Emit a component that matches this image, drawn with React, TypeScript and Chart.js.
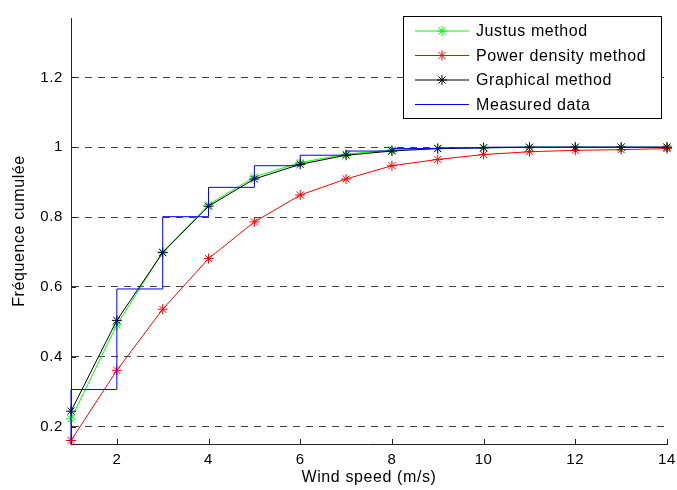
import React, { useEffect, useRef } from "react";
import { Chart, registerables } from "chart.js";

Chart.register(...registerables);

const windSpeed = [1, 2, 3, 4, 5, 6, 7, 8, 9, 10, 11, 12, 13, 14];
const justus = [0.222, 0.491, 0.7, 0.835, 0.915, 0.956, 0.98, 0.992, 0.997, 0.999, 1, 1, 1, 1];
const powerDensity = [0.16, 0.361, 0.536, 0.681, 0.786, 0.863, 0.909, 0.947, 0.965, 0.979, 0.987, 0.991, 0.993, 0.996];
const graphical = [0.244, 0.504, 0.698, 0.831, 0.909, 0.951, 0.977, 0.989, 0.996, 0.998, 1, 1, 1, 1];
const measuredX = [1, 1, 2, 3, 4, 5, 6, 7, 8, 9, 10, 11, 12, 13, 14];
const measuredY = [0, 0.306, 0.594, 0.801, 0.885, 0.947, 0.977, 0.989, 0.996, 0.998, 1, 1, 1, 1, 1];
const yTicks = [0.2, 0.4, 0.6, 0.8, 1, 1.2];
const xTicks = [2, 4, 6, 8, 10, 12, 14];
const legendLabels = ["Justus method", "Power density method", "Graphical method", "Measured data"];
const legendColors = ["#00ff00", "#ff0000", "#000000", "#0000ff"];
const legendMarkers = [true, true, true, false];

const FONT = "'Liberation Sans', Arial, Helvetica, sans-serif";

function drawStar(ctx: CanvasRenderingContext2D, x: number, y: number, r: number) {
  ctx.beginPath();
  ctx.moveTo(x - r, y);
  ctx.lineTo(x + r, y);
  ctx.moveTo(x, y - r);
  ctx.lineTo(x, y + r);
  const d = r * Math.SQRT1_2;
  ctx.moveTo(x - d, y - d);
  ctx.lineTo(x + d, y + d);
  ctx.moveTo(x - d, y + d);
  ctx.lineTo(x + d, y - d);
  ctx.stroke();
}

const decorPlugin = {
  id: "decor",
  beforeUpdate(chart: any) {
    chart.ctx.letterSpacing = "0.6px";
  },
  beforeDraw(chart: any) {
    chart.ctx.letterSpacing = "0.6px";
  },
  afterDraw(chart: any) {
    const ctx: CanvasRenderingContext2D = chart.ctx;
    const xs = chart.scales.x;
    const ys = chart.scales.y;
    const area = chart.chartArea;
    ctx.save();
    ctx.strokeStyle = "#222";
    ctx.lineWidth = 1;
    ctx.beginPath();
    xTicks.forEach((v) => {
      const px = Math.round(xs.getPixelForValue(v)) + 0.5;
      ctx.moveTo(px, Math.round(area.bottom));
      ctx.lineTo(px, Math.round(area.bottom) - 5);
    });
    yTicks.forEach((v) => {
      const py = Math.round(ys.getPixelForValue(v)) + 0.5;
      ctx.moveTo(Math.round(area.left), py);
      ctx.lineTo(Math.round(area.left) + 5, py);
    });
    ctx.stroke();

    // legend box
    const bx = 403.5, by = 16.5, bw = 258, bh = 102;
    ctx.fillStyle = "#ffffff";
    ctx.fillRect(bx, by, bw, bh);
    ctx.strokeStyle = "#000";
    ctx.strokeRect(bx, by, bw, bh);
    const rows = [31, 55.5, 80, 104.5];
    ctx.font = "16px " + FONT;
    (ctx as any).letterSpacing = "0.6px";
    ctx.textBaseline = "middle";
    ctx.textAlign = "left";
    legendLabels.forEach((label, i) => {
      const y = rows[i];
      ctx.strokeStyle = legendColors[i];
      ctx.lineWidth = 1;
      ctx.beginPath();
      ctx.moveTo(415, y);
      ctx.lineTo(469, y);
      ctx.stroke();
      if (legendMarkers[i]) drawStar(ctx, 442, y, 5);
      ctx.fillStyle = "#000";
      ctx.fillText(label, 476, y + 1);
    });
    ctx.restore();
  },
};

export default function App() {
  const ref = useRef<HTMLCanvasElement>(null);
  useEffect(() => {
    if (!ref.current) return;
    const methodClip = { left: 8, right: 8, top: 8, bottom: 8 };
    const chart = new Chart(ref.current, {
      type: "line",
      data: {
        datasets: [
          {
            label: legendLabels[3],
            data: measuredX.map((x, i) => ({ x, y: measuredY[i] })),
            borderColor: legendColors[3],
            borderWidth: 1,
            pointRadius: 0,
            stepped: "before",
            fill: false,
            clip: { left: 2, right: 2, top: 0, bottom: 0 },
          },
          {
            label: legendLabels[2],
            data: windSpeed.map((x, i) => ({ x, y: graphical[i] })),
            borderColor: legendColors[2],
            pointBorderColor: legendColors[2],
            borderWidth: 1,
            pointStyle: "star",
            pointRadius: 5,
            pointBorderWidth: 1,
            fill: false,
            clip: methodClip,
          },
          {
            label: legendLabels[1],
            data: windSpeed.map((x, i) => ({ x, y: powerDensity[i] })),
            borderColor: legendColors[1],
            pointBorderColor: legendColors[1],
            borderWidth: 1,
            pointStyle: "star",
            pointRadius: 5,
            pointBorderWidth: 1,
            fill: false,
            clip: methodClip,
          },
          {
            label: legendLabels[0],
            data: windSpeed.map((x, i) => ({ x, y: justus[i] })),
            borderColor: legendColors[0],
            pointBorderColor: legendColors[0],
            borderWidth: 1,
            pointStyle: "star",
            pointRadius: 5,
            pointBorderWidth: 1,
            fill: false,
            clip: methodClip,
          },
        ],
      },
      options: {
        animation: false,
        responsive: false,
        maintainAspectRatio: false,
        layout: { padding: { left: 0, right: 10, top: 18, bottom: 0 } },
        plugins: { legend: { display: false }, tooltip: { enabled: false } },
        elements: { line: { tension: 0 } },
        scales: {
          x: {
            type: "linear",
            min: 1,
            max: 14,
            afterBuildTicks: (scale: any) => {
              scale.ticks = xTicks.map((v) => ({ value: v }));
            },
            afterFit: (scale: any) => {
              scale.height = 46;
              scale.paddingLeft = 0;
              scale.paddingRight = 0;
            },
            grid: { display: false, drawTicks: false },
            border: { display: true, color: "#222", width: 1 },
            ticks: {
              color: "#000",
              font: { family: FONT, size: 15 },
              padding: 7,
              maxRotation: 0,
              autoSkip: false,
            },
            title: {
              display: true,
              text: "Wind speed (m/s)",
              color: "#000",
              font: { family: FONT, size: 16 },
              padding: { top: 0, bottom: 3 },
            },
          },
          y: {
            type: "linear",
            min: 0.15,
            max: 1.37,
            afterBuildTicks: (scale: any) => {
              scale.ticks = yTicks.map((v) => ({ value: v }));
            },
            afterFit: (scale: any) => {
              scale.width = 71;
              scale.paddingTop = 0;
              scale.paddingBottom = 0;
            },
            grid: { display: true, drawTicks: false, color: "#444", lineWidth: 1 },
            border: { display: true, color: "#222", width: 1, dash: [7, 6] },
            ticks: {
              color: "#000",
              font: { family: FONT, size: 15 },
              padding: 8,
              callback: (v: any) => String(Math.round(Number(v) * 10) / 10),
            },
            title: {
              display: true,
              text: "Fréquence cumulée",
              color: "#000",
              font: { family: FONT, size: 16 },
              padding: { top: 10, bottom: 0 },
            },
          },
        },
      },
      plugins: [decorPlugin],
    } as any);
    return () => chart.destroy();
  }, []);
  return (
    <div style={{ position: "fixed", left: 0, top: 0, width: 677, height: 490, background: "#fff" }}>
      <canvas ref={ref} width={677} height={490} style={{ width: 677, height: 490 }} />
    </div>
  );
}
